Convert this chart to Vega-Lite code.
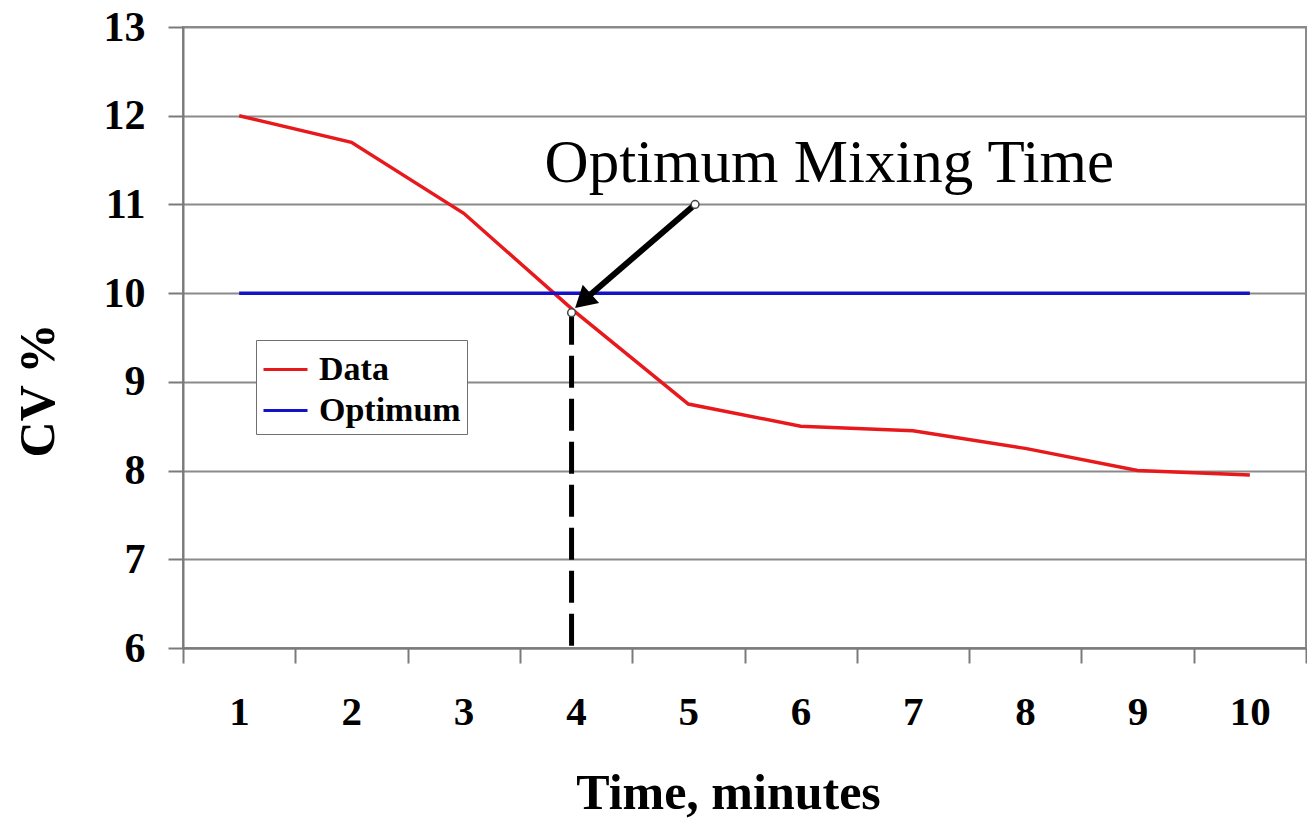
{
  "$schema": "https://vega.github.io/schema/vega-lite/v6.json",
  "autosize": "none",
  "width": 1123,
  "height": 621,
  "padding": {"left": 183, "top": 27, "right": 1, "bottom": 178},
  "background": "white",
  "config": {
    "view": {"stroke": "#8a8a8a", "strokeWidth": 2},
    "font": "Liberation Serif",
    "axis": {
      "labelFont": "Liberation Serif",
      "titleFont": "Liberation Serif",
      "labelFontWeight": "bold",
      "titleFontWeight": "bold",
      "labelColor": "black",
      "titleColor": "black",
      "domainColor": "#7a7a7a",
      "domainWidth": 2,
      "tickColor": "#7a7a7a",
      "tickWidth": 2,
      "tickSize": 15
    }
  },
  "datasets": {
    "series": [
      {"time": 1, "cv": 12.0, "series": "Data"},
      {"time": 2, "cv": 11.7, "series": "Data"},
      {"time": 3, "cv": 10.9, "series": "Data"},
      {"time": 4, "cv": 9.78, "series": "Data"},
      {"time": 5, "cv": 8.75, "series": "Data"},
      {"time": 6, "cv": 8.5, "series": "Data"},
      {"time": 7, "cv": 8.45, "series": "Data"},
      {"time": 8, "cv": 8.25, "series": "Data"},
      {"time": 9, "cv": 8.0, "series": "Data"},
      {"time": 10, "cv": 7.95, "series": "Data"},
      {"time": 1, "cv": 10, "series": "Optimum"},
      {"time": 10, "cv": 10, "series": "Optimum"}
    ]
  },
  "layer": [
    {
      "data": {"values": [{"time": 3.96, "top": 9.78, "bottom": 6}]},
      "mark": {"type": "rule", "color": "black", "strokeWidth": 5, "strokeDash": [32, 11]},
      "encoding": {
        "x": {"field": "time", "type": "quantitative"},
        "y": {"field": "top", "type": "quantitative"},
        "y2": {"field": "bottom"}
      }
    },
    {
      "data": {"name": "series"},
      "mark": {"type": "line", "strokeWidth": 3.5},
      "encoding": {
        "x": {
          "field": "time",
          "type": "quantitative",
          "scale": {"domain": [0.5, 10.5], "nice": false, "zero": false},
          "axis": {
            "values": [0.5, 1.5, 2.5, 3.5, 4.5, 5.5, 6.5, 7.5, 8.5, 9.5, 10.5],
            "labelExpr": "datum.value < 10 ? format(datum.value + 0.5, 'd') : ''",
            "labelOffset": 56,
            "labelFlush": false,
            "labelOverlap": false,
            "labelFontSize": 41,
            "labelPadding": 29,
            "grid": false,
            "title": "Time, minutes",
            "titleFontSize": 50,
            "titleBaseline": "alphabetic",
            "titleX": 545,
            "titleY": 160
          }
        },
        "y": {
          "field": "cv",
          "type": "quantitative",
          "scale": {"domain": [6, 13], "nice": false, "zero": false},
          "axis": {
            "values": [6, 7, 8, 9, 10, 11, 12, 13],
            "format": "d",
            "labelFontSize": 42,
            "labelPadding": 23,
            "grid": true,
            "gridColor": "#8a8a8a",
            "gridWidth": 2,
            "title": "CV %",
            "titleFontSize": 50,
            "titleAngle": 270,
            "titleBaseline": "alphabetic",
            "titleAlign": "center",
            "titleX": -130,
            "titleY": 363
          }
        },
        "color": {
          "field": "series",
          "type": "nominal",
          "scale": {"domain": ["Data", "Optimum"], "range": ["#e8191c", "#1212c8"]},
          "legend": {
            "title": null,
            "orient": "none",
            "legendX": 73,
            "legendY": 313,
            "symbolType": "stroke",
            "symbolSize": 1936,
            "symbolStrokeWidth": 3,
            "labelFont": "Liberation Serif",
            "labelFontWeight": "bold",
            "labelFontSize": 34,
            "labelColor": "black",
            "labelOffset": 10,
            "rowPadding": 0,
            "padding": 6,
            "strokeColor": "#707070",
            "fillColor": "white"
          }
        }
      }
    },
    {
      "data": {"values": [{"t1": 5.06, "v1": 11.0, "t2": 4.062, "v2": 9.912}]},
      "mark": {"type": "rule", "color": "black", "strokeWidth": 6},
      "encoding": {
        "x": {"field": "t1", "type": "quantitative"},
        "y": {"field": "v1", "type": "quantitative"},
        "x2": {"field": "t2"},
        "y2": {"field": "v2"}
      }
    },
    {
      "data": {"values": [{"time": 4.062, "cv": 9.912}]},
      "mark": {"type": "point", "shape": "triangle-up", "angle": 228, "filled": true, "color": "black", "size": 600, "opacity": 1},
      "encoding": {
        "x": {"field": "time", "type": "quantitative"},
        "y": {"field": "cv", "type": "quantitative"}
      }
    },
    {
      "data": {"values": [{"time": 5.06, "cv": 11.0}, {"time": 3.96, "cv": 9.78}]},
      "mark": {"type": "point", "filled": false, "fill": "white", "stroke": "#444444", "strokeWidth": 1.5, "size": 60, "opacity": 1},
      "encoding": {
        "x": {"field": "time", "type": "quantitative"},
        "y": {"field": "cv", "type": "quantitative"}
      }
    },
    {
      "data": {"values": [{"time": 3.72, "cv": 11.25, "label": "Optimum Mixing Time"}]},
      "mark": {"type": "text", "align": "left", "baseline": "alphabetic", "font": "Liberation Serif", "fontSize": 61, "color": "black"},
      "encoding": {
        "x": {"field": "time", "type": "quantitative"},
        "y": {"field": "cv", "type": "quantitative"},
        "text": {"field": "label"}
      }
    }
  ]
}
